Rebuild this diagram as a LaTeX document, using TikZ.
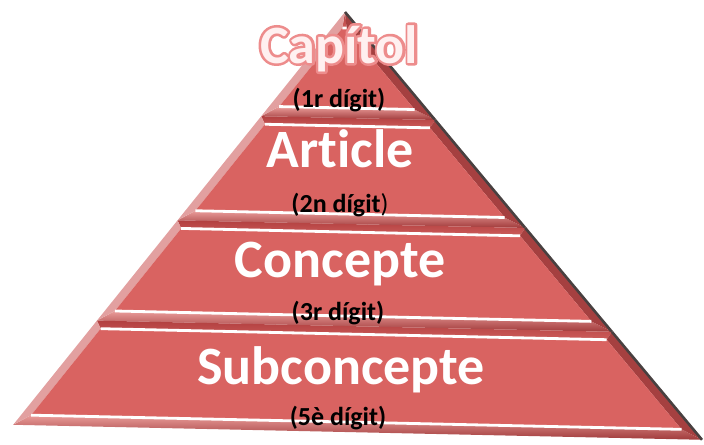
\documentclass[tikz,border=0pt]{standalone}
\usepackage{fontspec}
\setmainfont{Carlito}[Ligatures={NoCommon}]
\usepackage{tikz}
\definecolor{face_red}{RGB}{217,99,97}
\definecolor{top_red}{RGB}{178,64,64}
\definecolor{low_red}{RGB}{205,92,90}
\definecolor{bot_pink}{RGB}{234,156,154}
\definecolor{bot_dark}{RGB}{160,58,58}
\definecolor{side_pink}{RGB}{226,160,160}
\definecolor{side_dark}{RGB}{165,64,64}
\definecolor{edge_gray}{RGB}{72,64,64}
\definecolor{title_white}{RGB}{255,240,240}

% one beveled slab of the pyramid, #1 = top, #2 = bottom (px below the apex)
\newcommand{\pyrlayer}[2]{%
  \pgfmathsetmacro{\pyTop}{#1}\pgfmathsetmacro{\pyBot}{#2}%
  \pgfmathsetmacro{\pyInTop}{max(#1+8,16)}\pgfmathsetmacro{\pyInBot}{#2-10}%
  \coordinate (TL) at ({-0.79*\pyTop},\pyTop);
  \coordinate (TR) at ({0.85*\pyTop},\pyTop);
  \coordinate (BL) at ({-0.79*\pyBot},\pyBot);
  \coordinate (BR) at ({0.85*\pyBot},\pyBot);
  \coordinate (iTL) at ({-0.79*\pyInTop+10},\pyInTop);
  \coordinate (iTR) at ({0.85*\pyInTop-12},\pyInTop);
  \coordinate (iBL) at ({-0.79*\pyInBot+10},\pyInBot);
  \coordinate (iBR) at ({0.85*\pyInBot-12},\pyInBot);
  \shade[top color=top_red, bottom color=low_red] (TL) -- (TR) -- (iTR) -- (iTL) -- cycle;
  \shade[top color=bot_pink, bottom color=bot_dark] (iBL) -- (iBR) -- (BR) -- (BL) -- cycle;
  \fill[side_pink] (TL) -- (iTL) -- (iBL) -- (BL) -- cycle;
  \fill[side_dark] (TR) -- (iTR) -- (iBR) -- (BR) -- cycle;
  \fill[face_red] (iTL) -- (iTR) -- (iBR) -- (iBL) -- cycle;
  \draw[hilite] (iTL) -- (iTR);
  \draw[hilite] (iBL) -- (iBR);
  \draw[shadow] (TR) -- (BR);
}
% stroke-only letters (for the pink rim behind the top title)
\newcommand{\rimonly}[3]{%
  {\special{pdf:literal direct #1 RG #2 w 1 j 1 Tr}#3\special{pdf:literal direct 0 Tr}}}

\begin{document}
\begin{tikzpicture}[x=0.5pt,y=-0.5pt]
    \tikzstyle{hilite}=[white, line width=1.4pt]
    \tikzstyle{shadow}=[edge_gray, line width=1.3pt]
    \tikzstyle{title}=[text=white, font=\fontsize{27}{27}\selectfont\bfseries, anchor=base, inner sep=0pt]
    \tikzstyle{digit}=[text=black, font=\fontsize{13}{13}\selectfont\bfseries, anchor=base, inner sep=0pt]
    \useasboundingbox (0,0) rectangle (704,444);

    \begin{scope}[shift={(345,12)}, yslant=-0.02177]
      \pyrlayer{0}{106}
      \pyrlayer{106}{212}
      \pyrlayer{212}{314}
      \pyrlayer{314}{420}
    \end{scope}

    \node[title] (capitolrim) at (339,63) {\rimonly{0.93 0.55 0.55}{2.6}{Capítol}};
    \node[title, text=title_white] (capitol) at (339,63) {Capítol};
    \node[title] (article)     at (340,167) {Article};
    \node[title] (concepte)    at (340,277) {Concepte};
    \node[title] (subconcepte) at (341,384) {Subconcepte};

    \node[digit] (dig1) at (339,107) {(1r dígit)};
    \node[digit] (dig2) at (340,212) {(2n dígit{\mdseries)}};
    \node[digit] (dig3) at (338,320) {(3r dígit)};
    \node[digit] (dig5) at (338,425) {(5è dígit)};
\end{tikzpicture}
\end{document}
